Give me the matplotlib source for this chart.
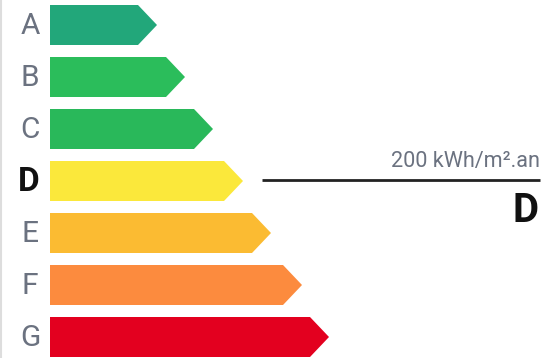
import matplotlib.pyplot as plt
from matplotlib.patches import Polygon

plt.rcParams['font.family'] = ['Roboto', 'DejaVu Sans']

grades = ['A', 'B', 'C', 'D', 'E', 'F', 'G']
bar_ends = [138, 166, 194, 224, 252, 283, 310]
colors = ['#22a77a', '#2bbd5b', '#29b85a', '#fbe83b', '#fbbb32', '#fc8b3e', '#e3001f']
current = 'D'
value_label = '200 kWh/m\u00b2.an'

fig = plt.figure(figsize=(5.44, 3.58), dpi=100)
ax = fig.add_axes([0, 0, 1, 1])
ax.set_xlim(0, 544)
ax.set_ylim(358, 0)
ax.axis('off')

x0 = 50
pitch = 52
h = 40
tip = 19

for i, (g, end, c) in enumerate(zip(grades, bar_ends, colors)):
    top = 5 + i * pitch
    mid = top + h / 2
    pts = [(x0, top), (end, top), (end + tip, mid), (end, top + h), (x0, top + h)]
    ax.add_patch(Polygon(pts, closed=True, facecolor=c, edgecolor='none'))
    if g == current:
        ax.text(29, mid + 1, g, ha='center', va='center', fontsize=24,
                fontweight='bold', color='#111111')
        # marker line + labels
        ax.plot([262, 540], [mid - 1.5, mid - 1.5], color='#222222', lw=2,
                solid_capstyle='butt')
        ax.text(540, mid - 14, value_label, ha='right', va='baseline',
                fontsize=15.6, color='#6b7280')
        ax.text(539, mid + 30, g, ha='right', va='center', fontsize=29,
                fontweight='bold', color='#111111')
    else:
        ax.text(30, mid + 1, g, ha='center', va='center', fontsize=21.5,
                color='#6b7280')

# light border at the left edge
ax.plot([0.8, 0.8], [0, 358], color='#dddddd', lw=1.5)

fig.savefig('out.png', dpi=100)
